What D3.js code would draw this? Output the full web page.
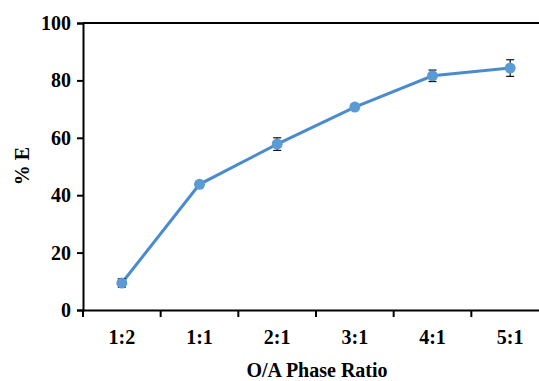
<!DOCTYPE html>
<html>
<head>
<meta charset="utf-8">
<script src="https://cdn.jsdelivr.net/npm/d3@7"></script>
<style>
  body { margin: 0; background: #fff; }
  svg { display: block; }
</style>
</head>
<body>
<div id="chart"></div>
<script>
const ratios = ['1:2', '1:1', '2:1', '3:1', '4:1', '5:1'];
const extraction = [9.4, 43.8, 57.8, 70.7, 81.6, 84.3];
const errors = [1.5, 1.0, 2.2, 1.0, 2.0, 2.9];
const yTicks = [0, 20, 40, 60, 80, 100];

const width = 539;
const height = 381;
const margin = { top: 23, right: -10, bottom: 71, left: 83 };
const font = '"Liberation Serif", "Times New Roman", serif';

const svg = d3.select('#chart')
  .append('svg')
  .attr('width', width)
  .attr('height', height)
  .attr('font-family', font)
  .attr('font-weight', 'bold');

const x = d3.scaleBand()
  .domain(ratios)
  .range([margin.left, width - margin.right]);

const y = d3.scaleLinear()
  .domain([0, 100])
  .range([height - margin.bottom, margin.top]);

// top frame line
svg.append('line')
  .attr('x1', margin.left).attr('x2', width - margin.right)
  .attr('y1', y(100)).attr('y2', y(100))
  .attr('stroke', '#000').attr('stroke-width', 2);

function yAxis(g) {
  g.attr('transform', `translate(${margin.left},0)`)
    .call(d3.axisLeft(y).tickValues(yTicks).tickSize(6).tickPadding(6))
    .attr('font-family', font)
    .attr('font-size', 20)
    .call(g => g.select('.domain').attr('stroke-width', 2))
    .call(g => g.selectAll('.tick line').attr('stroke-width', 2))
    .call(g => g.selectAll('text').attr('fill', '#000'));
}

function xAxis(g) {
  g.attr('transform', `translate(0,${y(0)})`)
    .call(d3.axisBottom(x).tickSize(0).tickPadding(20))
    .attr('font-family', font)
    .attr('font-size', 20)
    .call(g => g.select('.domain').attr('stroke-width', 2))
    .call(g => g.selectAll('text').attr('fill', '#000'));
  // ticks sit on the band boundaries
  g.selectAll('.bound')
    .data(ratios)
    .join('line')
      .attr('class', 'bound')
      .attr('x1', d => x(d)).attr('x2', d => x(d))
      .attr('y1', 0).attr('y2', 7)
      .attr('stroke', '#000').attr('stroke-width', 2);
}

svg.append('g').call(xAxis);
svg.append('g').call(yAxis);

const data = ratios.map((r, i) => ({ r, v: extraction[i], e: errors[i] }));
const cx = d => x(d.r) + x.bandwidth() / 2;

svg.append('path')
  .datum(data)
  .attr('fill', 'none')
  .attr('stroke', '#4a8bcf')
  .attr('stroke-width', 3)
  .attr('d', d3.line().x(cx).y(d => y(d.v)));

const err = svg.append('g')
  .attr('stroke', '#111')
  .attr('stroke-width', 1.2)
  .selectAll('g')
  .data(data)
  .join('g');

err.append('line')
  .attr('x1', cx).attr('x2', cx)
  .attr('y1', d => y(d.v - d.e)).attr('y2', d => y(d.v + d.e));
err.append('line')
  .attr('x1', d => cx(d) - 4).attr('x2', d => cx(d) + 4)
  .attr('y1', d => y(d.v - d.e)).attr('y2', d => y(d.v - d.e));
err.append('line')
  .attr('x1', d => cx(d) - 4).attr('x2', d => cx(d) + 4)
  .attr('y1', d => y(d.v + d.e)).attr('y2', d => y(d.v + d.e));

svg.append('g')
  .attr('fill', '#5b9bd5')
  .selectAll('circle')
  .data(data)
  .join('circle')
    .attr('cx', cx)
    .attr('cy', d => y(d.v))
    .attr('r', 5.5);

svg.append('text')
  .attr('x', 317)
  .attr('y', 377)
  .attr('text-anchor', 'middle')
  .attr('font-size', 20)
  .text('O/A Phase Ratio');

svg.append('text')
  .attr('transform', 'translate(29,166) rotate(-90)')
  .attr('text-anchor', 'middle')
  .attr('font-size', 20)
  .text('% E');
</script>
</body>
</html>
